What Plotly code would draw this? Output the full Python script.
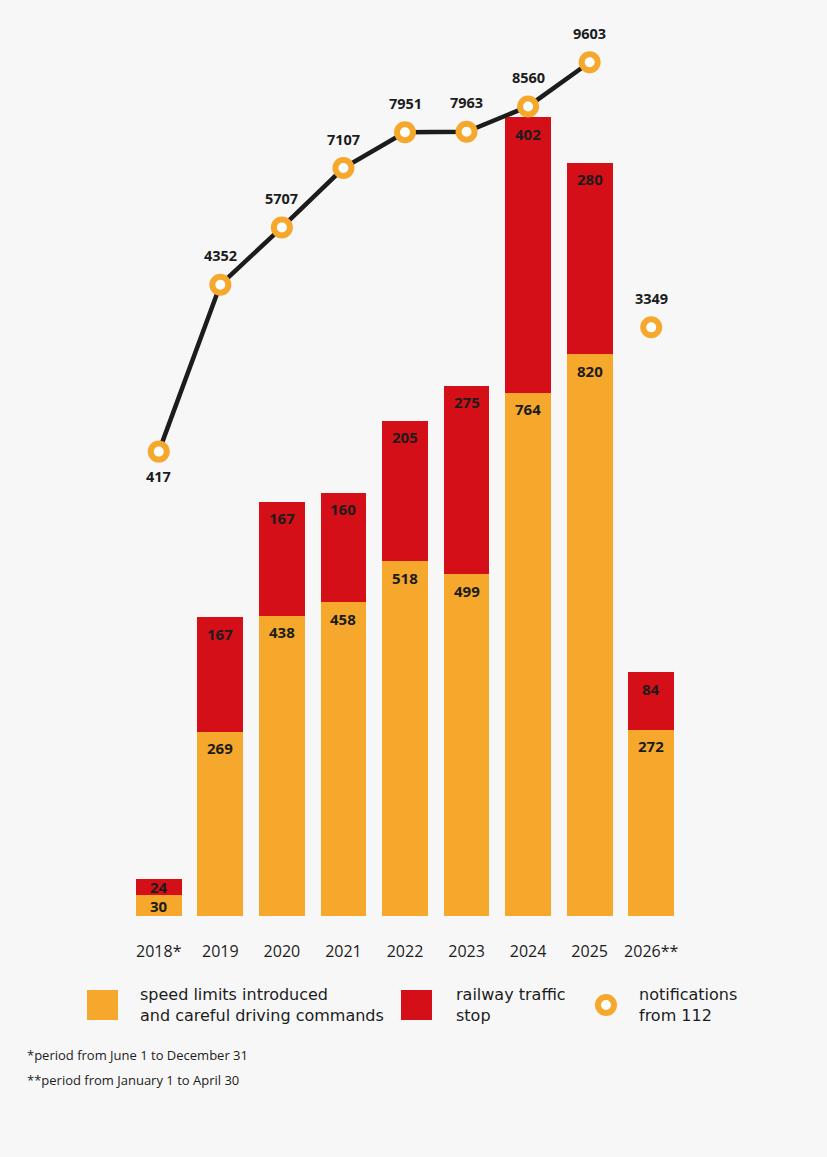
import plotly.graph_objects as go

# ---------------- data ----------------
years = ["2018*", "2019", "2020", "2021", "2022", "2023", "2024", "2025", "2026**"]
speed_limits = [30, 269, 438, 458, 518, 499, 764, 820, 272]
traffic_stop = [24, 167, 167, 160, 205, 275, 402, 280, 84]
notifications = [417, 4352, 5707, 7107, 7951, 7963, 8560, 9603, 3349]
label_pos = ["below", "above", "above", "above", "above", "above", "above", "above", "above"]

legend_labels = [
    "speed limits introduced<br>and careful driving commands",
    "railway traffic<br>stop",
    "notifications<br>from 112",
]
footnotes = ["*period from June 1 to December 31", "**period from January 1 to April 30"]

# ---------------- style ----------------
ORANGE = "#F6A82C"
RED = "#D50F17"
DARK = "#1c1c1c"
BG = "#F7F7F7"
FONT = "Open Sans"
FONT2 = "DejaVu Sans"

W, H = 827, 1157
L, R, T, B = 128, 682, 30, 916  # plot area in pixels
BAR_PX = 0.685
BAR_RANGE = [0, (B - T) / BAR_PX]
LINE_RANGE = [(469.3 - B) / 0.04239, (469.3 - T) / 0.04239]


def px(x):
    return (x - L) / (R - L)


def py(y):
    return (B - y) / (B - T)


fig = go.Figure()

fig.add_trace(go.Bar(x=years, y=speed_limits, marker=dict(color=ORANGE, line=dict(width=0)),
                     name="speed limits", hoverinfo="y"))
fig.add_trace(go.Bar(x=years, y=traffic_stop, marker=dict(color=RED, line=dict(width=0)),
                     name="railway traffic stop", hoverinfo="y"))

# line (2018-2025) connecting markers
fig.add_trace(go.Scatter(x=years[:8], y=notifications[:8], yaxis="y2", mode="lines",
                         line=dict(color=DARK, width=4.5), hoverinfo="skip", showlegend=False))
fig.add_trace(go.Scatter(x=years, y=notifications, yaxis="y2", mode="markers",
                         marker=dict(symbol="circle", size=16, color="white",
                                     line=dict(color=ORANGE, width=6)),
                         name="notifications from 112", showlegend=False))

annotations = []
scale = (B - T) / BAR_RANGE[1]
for i, yr in enumerate(years):
    seg = speed_limits[i] * scale
    annotations.append(dict(x=i, y=speed_limits[i], xref="x", yref="y", text=f"<b>{speed_limits[i]}</b>",
                            showarrow=False, yanchor="middle", yshift=-min(16.5, seg / 2),
                            font=dict(family=FONT, size=15, color=DARK)))
    seg2 = traffic_stop[i] * scale
    annotations.append(dict(x=i, y=speed_limits[i] + traffic_stop[i], xref="x", yref="y",
                            text=f"<b>{traffic_stop[i]}</b>", showarrow=False, yanchor="middle",
                            yshift=-min(16.5, seg2 / 2),
                            font=dict(family=FONT, size=15, color=DARK)))
    annotations.append(dict(x=i, y=notifications[i], xref="x", yref="y2", text=f"<b>{notifications[i]}</b>",
                            showarrow=False, yanchor="middle",
                            yshift=(29 if label_pos[i] == "above" else -25),
                            font=dict(family=FONT, size=14.5, color=DARK)))

# legend (manual)
shapes = []
leg_items = [(87, 138, "rect", ORANGE), (401, 454, "rect", RED), (606, 637, "circle", ORANGE)]
for (sx, tx, kind, col), text in zip(leg_items, legend_labels):
    if kind == "rect":
        shapes.append(dict(type="rect", xref="paper", yref="paper",
                           x0=px(sx), x1=px(sx + 31), y0=py(990), y1=py(1020),
                           fillcolor=col, line=dict(width=0)))
    else:
        shapes.append(dict(type="circle", xref="paper", yref="paper",
                           x0=px(sx - 8), x1=px(sx + 8), y0=py(1005 - 8), y1=py(1005 + 8),
                           fillcolor="white", line=dict(color=col, width=6)))
    annotations.append(dict(x=px(tx), y=py(1005), xref="paper", yref="paper", text=text,
                            showarrow=False, xanchor="left", yanchor="middle", align="left",
                            font=dict(family=FONT2, size=16, color=DARK)))

for j, t in enumerate(footnotes):
    annotations.append(dict(x=px(25), y=py(1055 + 25 * j), xref="paper", yref="paper", text=t,
                            showarrow=False, xanchor="left", yanchor="middle",
                            font=dict(family=FONT, size=13, color=DARK)))

fig.update_layout(
    width=W, height=H,
    margin=dict(l=L, r=W - R, t=T, b=H - B),
    paper_bgcolor=BG, plot_bgcolor=BG,
    barmode="stack", bargap=0.255,
    showlegend=False,
    xaxis=dict(type="category", range=[-0.5, len(years) - 0.5], showgrid=False, zeroline=False,
               showline=False, ticks="", categoryorder="array", categoryarray=years,
               tickfont=dict(family=FONT, size=16, color=DARK), ticklabelstandoff=24),
    yaxis=dict(range=BAR_RANGE, visible=False, showgrid=False, zeroline=False),
    yaxis2=dict(range=LINE_RANGE, visible=False, overlaying="y", side="right",
                showgrid=False, zeroline=False),
    annotations=annotations, shapes=shapes,
)

fig.write_html("out.html")
